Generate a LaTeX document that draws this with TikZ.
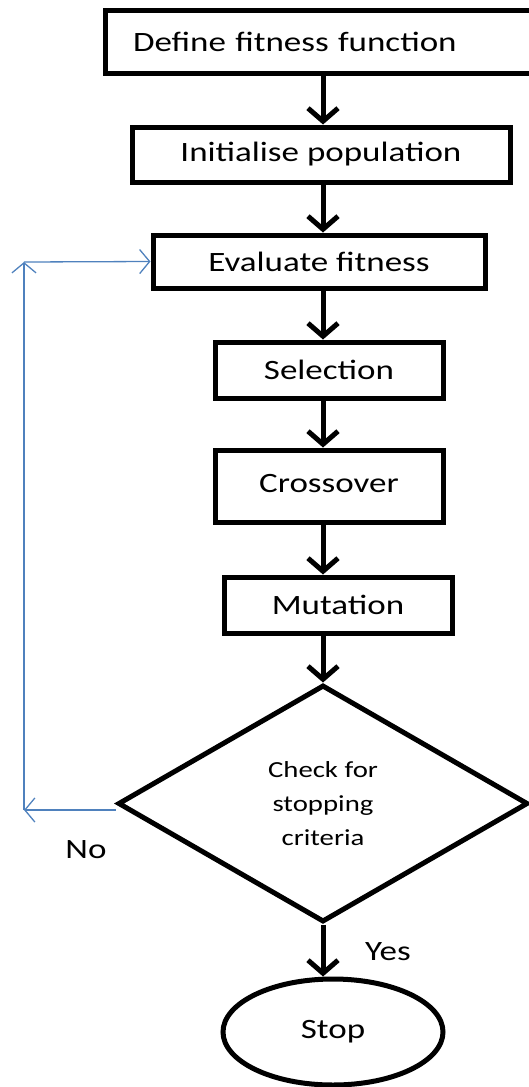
\documentclass[tikz,border=0pt]{standalone}
\usepackage{fontspec}
\setmainfont{Carlito}[FakeStretch=1.25]
\usepackage{xcolor}
\usepackage{tikz}
\usetikzlibrary{arrows.meta,shapes.geometric,positioning}
\definecolor{loopblue}{RGB}{79,129,189}

\begin{document}
\begin{tikzpicture}[x=1pt,y=-1pt,
    box/.style={draw, line width=5pt, inner sep=0pt, font=\fontsize{28}{34}\selectfont},
    flow/.style={line width=5pt, -{Straight Barb[length=13pt,width=30pt]}},
    back/.style={draw=loopblue, line width=1.3pt, -{Straight Barb[length=10pt,width=24pt]}},
    tag/.style={font=\fontsize{28}{34}\selectfont}]
		\useasboundingbox (0,0) rectangle (529,1087);
		\clip (0,0) rectangle (529,1087);

		% main chain of steps
		\node[box, minimum height=63pt, text width=424pt, align=left, inner xsep=28pt] (define) at (345,41.5) {Define fitness function};
		\node[box, minimum width=378pt, minimum height=55pt] (init) at (321,154.5) {Initialise population};
		\node[box, minimum width=332pt, minimum height=53pt] (eval) at (319,261.5) {Evaluate fitness};
		\node[box, minimum width=228pt, minimum height=56pt] (select) at (329,370) {Selection};
		\node[box, minimum width=228pt, minimum height=72pt] (cross) at (329,486) {\raisebox{6pt}{Crossover}};
		\node[box, minimum width=228pt, minimum height=56pt] (mutate) at (338,605) {Mutation};
		\node[box, shape=diamond, minimum width=410pt, minimum height=237pt, align=center,
			font=\fontsize{23}{34}\selectfont] (check) at (323,803.5) {Check for\\stopping\\criteria};
		\node[box, shape=ellipse, minimum width=220pt, minimum height=106pt] (stop) at (333,1032) {Stop};

		\node[tag] (no) at (86,850) {No};
		\node[tag] (yes) at (388,952) {Yes};

		\coordinate (spine) at (323,0);
		\draw[flow] (define.south -| spine) -- (init.north -| spine);
		\draw[flow] (init.south -| spine) -- (eval.north -| spine);
		\draw[flow] (eval.south -| spine) -- (select.north -| spine);
		\draw[flow] (select.south -| spine) -- (cross.north -| spine);
		\draw[flow] (cross.south -| spine) -- (mutate.north -| spine);
		\draw[flow] (mutate.south -| check.north) -- (check.north);
		\draw[flow] (check.south) -- (stop.north -| check.south);

		% loop back when not finished
		\coordinate (lowcorner) at (24,810);
		\coordinate (upcorner) at (24,262);
		\draw[back] (check.west |- lowcorner) -- (lowcorner);
		\draw[back] (lowcorner) -- (upcorner);
		\draw[back] (upcorner) -- (eval.west);
	\end{tikzpicture}
\end{document}
